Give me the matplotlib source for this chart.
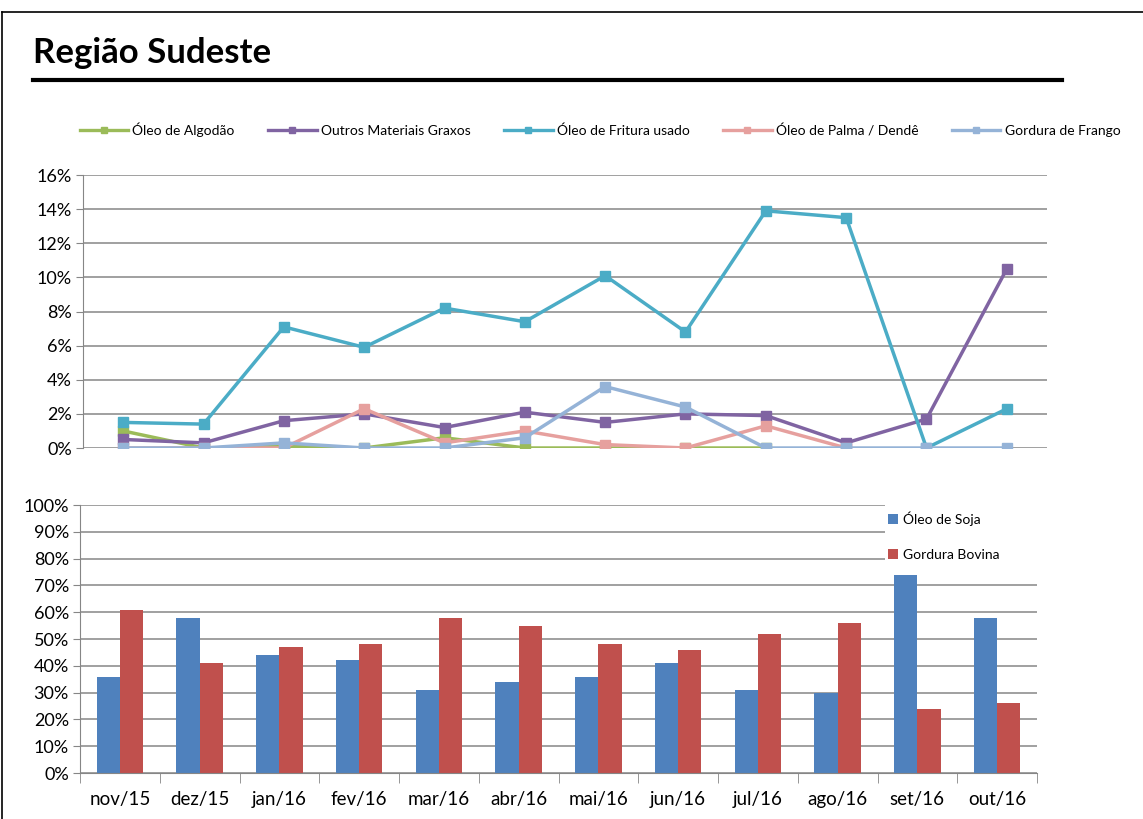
"""Região Sudeste: share of raw materials used for biodiesel, lines (minor) and bars (major)."""
import matplotlib
matplotlib.use("Agg")
import matplotlib.pyplot as plt
from matplotlib.lines import Line2D
from matplotlib.patches import Rectangle
from matplotlib.ticker import FixedLocator, FuncFormatter

plt.rcParams["font.family"] = ["Lato", "DejaVu Sans"]

W, H = 1143, 819

months = ["nov/15", "dez/15", "jan/16", "fev/16", "mar/16", "abr/16",
          "mai/16", "jun/16", "jul/16", "ago/16", "set/16", "out/16"]

# minor materials (%)
algodao = [1.0, 0.0, 0.1, 0.0, 0.6, 0.0, 0.0, 0.0, 0.0, None, None, None]
outros = [0.5, 0.3, 1.6, 2.0, 1.2, 2.1, 1.5, 2.0, 1.9, 0.3, 1.7, 10.5]
fritura = [1.5, 1.4, 7.1, 5.9, 8.2, 7.4, 10.1, 6.8, 13.9, 13.5, 0.0, 2.3]
palma = [0.0, 0.0, 0.0, 2.3, 0.3, 1.0, 0.2, 0.0, 1.3, 0.0, None, None]
frango = [0.0, 0.0, 0.3, 0.0, 0.0, 0.6, 3.6, 2.4, 0.0, 0.0, 0.0, 0.0]

# major materials (%)
soja = [36, 58, 44, 42, 31, 34, 36, 41, 31, 30, 74, 58]
bovina = [61, 41, 47, 48, 58, 55, 48, 46, 52, 56, 24, 26]

line_series = [
    ("Óleo de Algodão", algodao, "#9bbb59"),
    ("Outros Materiais Graxos", outros, "#8064a2"),
    ("Óleo de Fritura usado", fritura, "#4bacc6"),
    ("Óleo de Palma / Dendê", palma, "#e6a09e"),
    ("Gordura de Frango", frango, "#95b3d7"),
]

GRID = "#868686"


def fx(px):
    return px / W


def fy(py):
    return 1 - py / H


def style_axis(ax):
    for s in ["top", "right", "bottom"]:
        ax.spines[s].set_visible(False)
    ax.spines["left"].set_color(GRID)
    ax.grid(axis="y", color=GRID, linewidth=1.1)
    ax.set_axisbelow(True)
    ax.tick_params(axis="y", length=5, color=GRID, labelsize=13, pad=3)


fig = plt.figure(figsize=(W / 100, H / 100), dpi=100)

# page border, title and rule
fig.add_artist(Line2D([fx(2), 1], [fy(12), fy(12)], color="black", lw=1.2))
fig.add_artist(Line2D([fx(2), fx(2)], [fy(12), 0], color="black", lw=1.2))
fig.text(fx(33), fy(63), "Região Sudeste", fontsize=25, fontweight="bold",
         va="baseline", ha="left")
fig.add_artist(Line2D([fx(33), fx(1062)], [fy(80), fy(80)], color="black", lw=3))

# top: line chart
ax1 = fig.add_axes([fx(83), fy(448), fx(1047 - 83), (448 - 175) / H])
x = list(range(len(months)))
handles = []
for name, vals, color in line_series:
    ys = [float("nan") if v is None else v for v in vals]
    (h,) = ax1.plot(x, ys, color=color, lw=2.5, marker="s", markersize=7.5,
                    label=name)
    handles.append(h)
style_axis(ax1)
ax1.set_xlim(-0.5, 11.5)
ax1.set_ylim(0, 16)
ax1.yaxis.set_major_locator(FixedLocator(range(0, 17, 2)))
ax1.yaxis.set_major_formatter(FuncFormatter(lambda v, _: f"{v:.0f}%"))
ax1.set_xticks([])

leg_handles = [Line2D([], [], color=h.get_color(), lw=2.4, marker="s",
                      markersize=4) for h in handles]
fig.legend(leg_handles, [s[0] for s in line_series], loc="center",
           bbox_to_anchor=(fx(600), fy(130)), ncol=5, frameon=False,
           fontsize=10, handlelength=3.5, columnspacing=2.4, handletextpad=0.3)

# bottom: bar chart
ax2 = fig.add_axes([fx(80), fy(773), fx(1037 - 80), (773 - 505) / H])
bw = 0.29
ax2.bar([i - bw / 2 for i in x], soja, width=bw, color="#4f81bd",
        label="Óleo de Soja")
ax2.bar([i + bw / 2 for i in x], bovina, width=bw, color="#c0504d",
        label="Gordura Bovina")
style_axis(ax2)
ax2.spines["bottom"].set_visible(True)
ax2.spines["bottom"].set_color(GRID)
ax2.set_xlim(-0.5, 11.5)
ax2.set_ylim(0, 100)
ax2.yaxis.set_major_locator(FixedLocator(range(0, 101, 10)))
ax2.yaxis.set_major_formatter(FuncFormatter(lambda v, _: f"{v:.0f}%"))
ax2.set_xticks(x)
ax2.set_xticklabels(months, fontsize=13.5)
ax2.set_xticks([i - 0.5 for i in range(len(months) + 1)], minor=True)
ax2.tick_params(axis="x", which="major", length=0, pad=13)
ax2.tick_params(axis="x", which="minor", length=7, color=GRID)

# white box behind the legend hides the upper gridlines, as in the source
ax2.add_patch(Rectangle((fx(885), fy(568)), fx(1045 - 885), fy(498) - fy(568),
                        transform=fig.transFigure, facecolor="white",
                        edgecolor="none", zorder=0.8, clip_on=False))
ax2.legend(loc="upper left", bbox_to_anchor=(fx(888), fy(511)),
           bbox_transform=fig.transFigure, fontsize=10, handlelength=0.7,
           handleheight=0.7, handletextpad=0.4, labelspacing=1.7,
           borderpad=0, borderaxespad=0, frameon=False)

fig.savefig("out.png", dpi=100)
